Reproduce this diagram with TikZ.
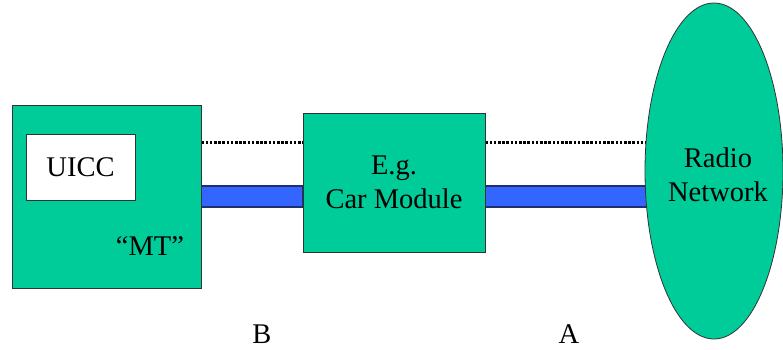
\documentclass[tikz,border=0pt]{standalone}
\usepackage{fontspec}
\setmainfont{LiberationSerif}[Extension=.ttf,UprightFont=*-Regular,BoldFont=*-Bold]
\usetikzlibrary{shapes.geometric,backgrounds}
\definecolor{boxgreen}{HTML}{00CC99}
\definecolor{barblue}{HTML}{3366FF}
\definecolor{barnavy}{HTML}{1F2F6F}
\definecolor{edge}{HTML}{333333}
\begin{document}
\begin{tikzpicture}[x=1pt,y=-1pt,
  greenbox/.style={draw=edge,line width=0.8pt,fill=boxgreen,inner sep=0pt},
  lbl/.style={font=\fontsize{28.5}{34}\selectfont,align=center,inner sep=0pt},
  dotline/.style={line width=3pt,dash pattern=on 2.6pt off 1.6pt},
  bar/.style={fill=barblue,draw=barnavy,line width=1.2pt}]
\useasboundingbox (0,0) rectangle (783,349);
\node[greenbox,minimum width=189pt,minimum height=183pt] (mt) at (106.5,196.5) {};
\node[draw=edge,line width=0.8pt,fill=white,minimum width=109pt,minimum height=66pt,inner sep=0pt] (uicc) at (80.5,167) {};
\node[lbl] (uicct) at (uicc.center) {UICC};
\node[lbl] (mtt) at (150,246) {“MT”};
\node[greenbox,minimum width=182pt,minimum height=139pt] (car) at (394,182.5) {};
\node[lbl] (cart) at (car.center) {E.g.\\Car Module};
\node[greenbox,ellipse,minimum width=138pt,minimum height=336pt] (radio) at (714,171) {};
\node[lbl] (radiot) at (718,175) {Radio\\Network};
\node[lbl] (b) at (262,334) {B};
\node[lbl] (a) at (569,334) {A};
\begin{scope}[on background layer]
\draw[dotline] (mt.east |- 0,142) -- (car.west |- 0,142);
\draw[dotline] (car.east |- 0,142) -- (radio.center |- 0,142);
\draw[bar] (mt.east |- 0,186) rectangle (car.west |- 0,207);
\draw[bar] (car.east |- 0,186) rectangle (radio.center |- 0,207);
\end{scope}
\end{tikzpicture}
\end{document}
